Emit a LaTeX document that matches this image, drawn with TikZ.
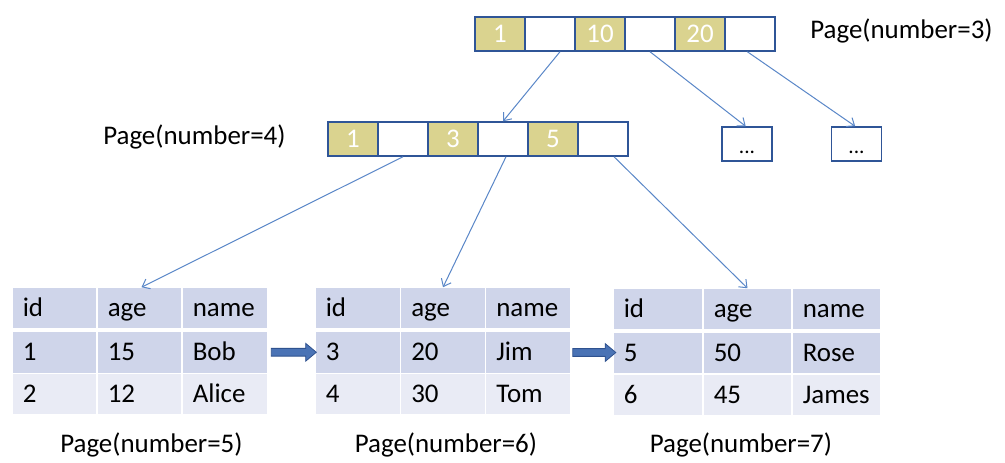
\documentclass[tikz,border=0pt]{standalone}
\usepackage{fontspec}
\setmainfont{Carlito}
\usetikzlibrary{arrows.meta,shapes.arrows,calc}
\definecolor{pgOlive}{HTML}{DAD38F}
\definecolor{pgBorder}{HTML}{2F5597}
\definecolor{pgConn}{HTML}{5A87C8}
\definecolor{pgHead}{HTML}{CFD5EA}
\definecolor{pgRowB}{HTML}{E9EBF5}
\definecolor{pgArrow}{HTML}{4A73B5}
\definecolor{pgArrowD}{HTML}{2F528F}
\newcommand\fsz{\fontsize{20.2}{24}\selectfont}
\newcommand\tcell[7]{\node[tcell, fill=#6, text width={(#3-#2-21.5)*0.75pt}, minimum height={(#5-#4)*0.75pt}] (#1) at ({(#2+#3)/2},{(#4+#5)/2}) {#7};}
\tikzset{
  pcell/.style={draw=pgBorder, line width=1.1pt, minimum width=37.5pt, minimum height=25.5pt, inner sep=0pt, text height=13pt, text depth=0pt, font=\fsz, text=white},
  dotbox/.style={draw=pgBorder, line width=1.1pt, minimum width=37.5pt, minimum height=25.5pt, inner sep=0pt, text height=13.5pt, text depth=0pt, font=\fontsize{16}{19}\selectfont},
  tcell/.style={inner xsep=7.5pt, inner ysep=0pt, align=left, text height=13pt, text depth=0pt, font=\fsz, text=black},
  conn/.style={draw=pgConn, line width=0.75pt, -{Straight Barb[length=5pt,width=8pt,line width=0.75pt]}},
  lbl/.style={font=\fsz, text=black, inner sep=0pt, anchor=base west},
  blockarr/.style={shape=single arrow, fill=pgArrow, draw=pgArrowD, line width=0.6pt, inner sep=2.6pt, single arrow head extend=3.75pt, single arrow tip angle=80}
}
\begin{document}
\begin{tikzpicture}[x=0.75pt,y=-0.75pt]
\fill[white] (0,0) rectangle (1005,462);
\useasboundingbox (0,0) rectangle (1005,462);

% top page (number=3)
\node[pcell,fill=pgOlive] (p3c1) at (500,34) {1};
\node[pcell] (p3c2) at (550,34) {};
\node[pcell,fill=pgOlive] (p3c3) at (600,34) {10};
\node[pcell] (p3c4) at (650,34) {};
\node[pcell,fill=pgOlive] (p3c5) at (700,34) {20};
\node[pcell] (p3c6) at (750,34) {};
\node[lbl] (lp3) at (810,38.3) {Page(number=3)};

% middle page (number=4)
\node[pcell,fill=pgOlive] (p4c1) at (353,139) {1};
\node[pcell] (p4c2) at (403,139) {};
\node[pcell,fill=pgOlive] (p4c3) at (453,139) {3};
\node[pcell] (p4c4) at (503,139) {};
\node[pcell,fill=pgOlive] (p4c5) at (553,139) {5};
\node[pcell] (p4c6) at (603,139) {};
\node[lbl] (lp4) at (103,144.3) {Page(number=4)};

% other pages
\node[dotbox] (dots1) at (747,144) {...};
\node[dotbox] (dots2) at (856.5,144) {...};

% table 1 (number=5)
\tcell{t1h1}{12}{97}{287.5}{328}{pgHead}{id}
\tcell{t1h2}{97}{182}{287.5}{328}{pgHead}{age}
\tcell{t1h3}{182}{268}{287.5}{328}{pgHead}{name}
\tcell{t1r11}{12}{97}{332}{372.5}{pgHead}{1}
\tcell{t1r12}{97}{182}{332}{372.5}{pgHead}{15}
\tcell{t1r13}{182}{268}{332}{372.5}{pgHead}{Bob}
\tcell{t1r21}{12}{97}{374}{414}{pgRowB}{2}
\tcell{t1r22}{97}{182}{374}{414}{pgRowB}{12}
\tcell{t1r23}{182}{268}{374}{414}{pgRowB}{Alice}

% table 2 (number=6)
\tcell{t2h1}{315}{400.5}{287.5}{328}{pgHead}{id}
\tcell{t2h2}{400.5}{485.5}{287.5}{328}{pgHead}{age}
\tcell{t2h3}{485.5}{571}{287.5}{328}{pgHead}{name}
\tcell{t2r11}{315}{400.5}{332}{372.5}{pgHead}{3}
\tcell{t2r12}{400.5}{485.5}{332}{372.5}{pgHead}{20}
\tcell{t2r13}{485.5}{571}{332}{372.5}{pgHead}{Jim}
\tcell{t2r21}{315}{400.5}{374}{414}{pgRowB}{4}
\tcell{t2r22}{400.5}{485.5}{374}{414}{pgRowB}{30}
\tcell{t2r23}{485.5}{571}{374}{414}{pgRowB}{Tom}

% table 3 (number=7)
\tcell{t3h1}{613}{703}{288.5}{328.5}{pgHead}{id}
\tcell{t3h2}{703}{792}{288.5}{328.5}{pgHead}{age}
\tcell{t3h3}{792}{881}{288.5}{328.5}{pgHead}{name}
\tcell{t3r11}{613}{703}{332.5}{373}{pgHead}{5}
\tcell{t3r12}{703}{792}{332.5}{373}{pgHead}{50}
\tcell{t3r13}{792}{881}{332.5}{373}{pgHead}{Rose}
\tcell{t3r21}{613}{703}{374.5}{415}{pgRowB}{6}
\tcell{t3r22}{703}{792}{374.5}{415}{pgRowB}{45}
\tcell{t3r23}{792}{881}{374.5}{415}{pgRowB}{James}

% bottom labels
\node[lbl] (lp5) at (60,452.7) {Page(number=5)};
\node[lbl] (lp6) at (354.5,452.7) {Page(number=6)};
\node[lbl] (lp7) at (649.5,452.7) {Page(number=7)};

% connectors
\draw[conn] ([xshift=7.5pt]p3c2.south) -- (p4c4.north);
\draw[conn] (p3c4.south) -- ([xshift=-1pt]dots1.north);
\draw[conn] ([xshift=-2pt]p3c6.south) -- ([xshift=-1pt]dots2.north);
\draw[conn] (p4c2.south) -- ([xshift=1.5pt]t1h2.north);
\draw[conn] ([xshift=2.25pt]p4c4.south) -- (t2h2.north);
\draw[conn] ([xshift=8.25pt]p4c6.south) -- (t3h2.north);

% block arrows between leaf pages
\node[blockarr, minimum height=33.75pt] (ba1) at ($(t1r13.east)!0.5!(t2r11.west)$) {};
\node[blockarr, minimum height=32.25pt] (ba2) at ($(t2r13.east)!0.5!(t3r11.west)$) {};
\end{tikzpicture}
\end{document}
